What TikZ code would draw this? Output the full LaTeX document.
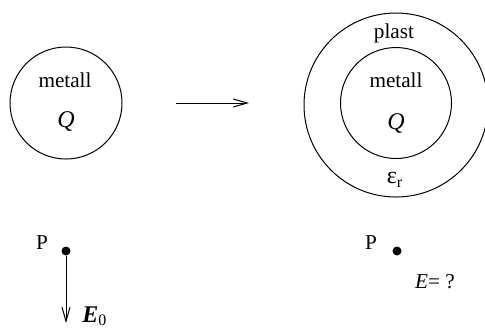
\documentclass[tikz,border=0pt]{standalone}
\usepackage{fontspec}
\setmainfont{Liberation Serif}
\usepackage{tikz}
\usetikzlibrary{positioning, calc, arrows.meta}

\begin{document}
\begin{tikzpicture}[
    x=0.5pt, y=-0.5pt,
    >={Straight Barb[length=7pt, width=4pt]},
    ball/.style={draw, circle, line width=0.5pt, inner sep=0pt},
    lbl/.style={font=\fontsize{10.6pt}{12pt}\selectfont, inner sep=0pt},
    biglbl/.style={font=\fontsize{12pt}{14pt}\selectfont, inner sep=0pt},
    pdot/.style={fill=black, circle, inner sep=0pt, minimum size=4.5pt},
    flow/.style={->, line width=0.5pt},
]
\useasboundingbox (0,0) rectangle (485,329);

% ─── Before: bare metal ball ───
\node[ball, minimum size=56pt] at (66,103) (ball) {};
\node[lbl] at (65,80)  (ballname) {metall};
\node[biglbl] at (66,121) (ballq) {\textit{Q}};

% ─── After: metal ball inside plastic shell ───
\node[ball, minimum size=92pt] at (396,105) (shell) {};
\node[ball, minimum size=55.5pt] at (396,103) (core) {};
\node[lbl] at (394,33)  (shellname) {plast};
\node[lbl] at (396,80)  (corename)  {metall};
\node[biglbl] at (396,123) (coreq)  {\textit{Q}};
\node[biglbl] at (395,180) (epsr)   {ε\textsubscript{r}};

% ─── Transition arrow ───
\coordinate (stepA) at (176,103);
\coordinate (stepB) at (249,103);
\draw[flow] (stepA) -- (stepB);

% ─── Field points ───
\node[pdot] at (66,251)  (pa) {};
\node[lbl]  at (42,243)  (paname) {P};
\coordinate (efield) at (66,323);
\draw[flow] (pa) -- (efield);
\node[biglbl, anchor=base west] at (82,322) (e0) {\textbf{\textit{E}}\textsubscript{0}};

\node[pdot] at (397,251) (pb) {};
\node[lbl]  at (371,243) (pbname) {P};
\node[lbl]  at (435,282) (eq) {\textit{E}= ?};

\end{tikzpicture}
\end{document}
